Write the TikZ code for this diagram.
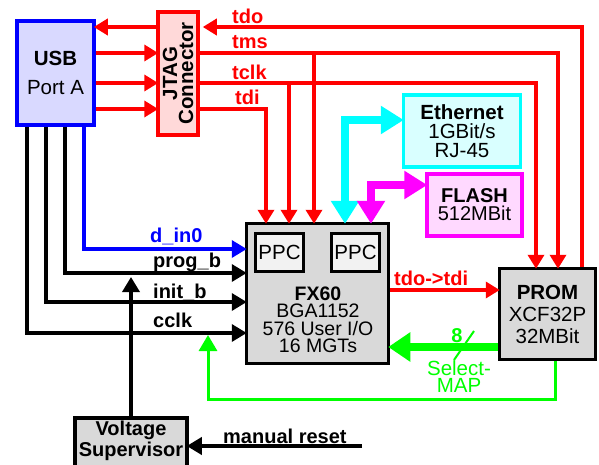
\documentclass[tikz,border=0pt]{standalone}
\usepackage{fontspec}
\setmainfont{Liberation Sans}
\usetikzlibrary{arrows.meta,positioning,calc}
\definecolor{usbfill}{HTML}{D9D9FF}
\definecolor{jtagfill}{HTML}{FFD9D9}
\definecolor{ethfill}{HTML}{D9FFFF}
\definecolor{flashfill}{HTML}{FFD9FF}
\definecolor{chipfill}{HTML}{D9D9D9}
\definecolor{ppcfill}{HTML}{F2F2F2}
\definecolor{ethcyan}{RGB}{0,255,255}
\definecolor{flashmag}{RGB}{255,0,255}
\definecolor{cfggreen}{RGB}{0,255,0}

\begin{document}
\begin{tikzpicture}[
  x=1pt, y=-1pt,
  box/.style={
    draw=black, line width=3.5pt, align=center, inner sep=0pt,
    font=\fontsize{20.5}{17}\selectfont
  },
  ppcbox/.style={
    draw=black, line width=3pt, fill=ppcfill, inner sep=0pt,
    minimum width=48pt, minimum height=38pt, font=\fontsize{20.5}{17}\selectfont
  },
  lbl/.style={font=\bfseries\fontsize{20}{20}\selectfont, anchor=base west, inner sep=0pt},
  rarrow/.style={-{Triangle[length=14pt,width=16pt]}, red, line width=3.5pt},
  karrow/.style={-{Triangle[length=15pt,width=17pt]}, black, line width=3.5pt},
  fat/.style={{Triangle[length=23pt,width=27pt]}-{Triangle[length=23pt,width=27pt]}, line width=8pt},
]
  \useasboundingbox (0,0) rectangle (599,465);

  % Boxes
  \node[box, draw=blue, fill=usbfill, minimum width=77pt, minimum height=104pt] (usb) at (55.5,73)
    {\textbf{USB}\\[12pt]Port A};
  \node[box, draw=red, fill=jtagfill, minimum width=40pt, minimum height=123pt] (jtag) at (178,73.5) {};
  \node[rotate=90, align=center, inner sep=0pt, font=\bfseries\fontsize{20.5}{16}\selectfont] (jtagtxt)
    at (jtag.center) {JTAG\\Connector};
  \node[box, draw=ethcyan, fill=ethfill, minimum width=117pt, minimum height=72pt,
    font=\fontsize{20.5}{19}\selectfont] (eth) at (462,131) {\textbf{Ethernet}\\1GBit/s\\RJ-45};
  \node[box, draw=flashmag, fill=flashfill, minimum width=95pt, minimum height=62pt,
    font=\fontsize{20}{18}\selectfont] (flash) at (474.5,205) {\textbf{FLASH}\\512MBit};
  \node[box, fill=chipfill, minimum width=142pt, minimum height=140pt] (fx60) at (317.5,293.5) {};
  \node[ppcbox] (ppcA) at (279.5,252) {PPC};
  \node[ppcbox] (ppcB) at (355.5,252) {PPC};
  \node[align=center, inner sep=0pt, font=\fontsize{19.5}{17.5}\selectfont] (fxtxt) at (318,320)
    {\textbf{FX60}\\BGA1152\\576 User I/O\\16 MGTs};
  \node[box, fill=chipfill, minimum width=96pt, minimum height=91pt,
    font=\fontsize{20.5}{22}\selectfont] (prom) at (547.5,314) {\textbf{PROM}\\XCF32P\\32MBit};
  \node[box, fill=chipfill, minimum width=112pt, minimum height=54pt] (vs) at (131,445) {};
  \node[align=center, inner sep=0pt, font=\bfseries\fontsize{20}{21}\selectfont] (vstxt) at (131,441)
    {Voltage\\Supervisor};

  % JTAG chain
  \coordinate (tdoC)  at (582,27);
  \coordinate (tmsC)  at (558,53);
  \coordinate (tclkC) at (536,83);
  \coordinate (tdiC)  at (266,109);
  \coordinate (tmsB)  at (314,53);
  \coordinate (tclkB) at (289,83);
  \draw[rarrow, shorten >=3pt] (prom.north -| tdoC) -- (tdoC) -- (jtag.east |- tdoC);
  \draw[rarrow, shorten >=-2pt] (jtag.west |- tdoC) -- (usb.east |- tdoC);
  \draw[rarrow, shorten >=-2pt] (usb.east |- tmsC) -- (jtag.west |- tmsC);
  \draw[rarrow, shorten >=-2pt] (usb.east |- tclkC) -- (jtag.west |- tclkC);
  \draw[rarrow, shorten >=-2pt] (usb.east |- tdiC) -- (jtag.west |- tdiC);
  \draw[rarrow, shorten >=-2pt] (jtag.east |- tmsC) -- (tmsC) -- (prom.north -| tmsC);
  \draw[rarrow, shorten >=-2pt] (jtag.east |- tclkC) -- (tclkC) -- (prom.north -| tclkC);
  \draw[rarrow, shorten >=-2pt] (tmsB) -- (fx60.north -| tmsB);
  \draw[rarrow, shorten >=-2pt] (tclkB) -- (fx60.north -| tclkB);
  \draw[rarrow, shorten >=-2pt] (jtag.east |- tdiC) -- (tdiC) -- (fx60.north -| tdiC);
  \node[lbl, text=red] (ltdo)  at (232,24)  {tdo};
  \node[lbl, text=red] (ltms)  at (232,49)  {tms};
  \node[lbl, text=red] (ltclk) at (232,80)  {tclk};
  \node[lbl, text=red] (ltdi)  at (235,105) {tdi};

  % Configuration lines from USB
  \coordinate (dinC)  at (84,249);
  \coordinate (progC) at (65,273);
  \coordinate (initC) at (46,302);
  \coordinate (cclkC) at (27,333);
  \draw[karrow, blue, shorten >=-2pt] (usb.south -| dinC) |- (fx60.west |- dinC);
  \draw[karrow, shorten >=-2pt] (usb.south -| progC) |- (fx60.west |- progC);
  \draw[karrow, shorten >=-2pt] (usb.south -| initC) |- (fx60.west |- initC);
  \draw[karrow, shorten >=-2pt] (usb.south -| cclkC) |- (fx60.west |- cclkC);
  \node[lbl, text=blue] (ldin) at (150,242) {d\_in0};
  \node[lbl] (lprog) at (153,267) {prog\_b};
  \node[lbl] (linit) at (153,298) {init\_b};
  \node[lbl] (lcclk) at (153,327) {cclk};

  % Reset
  \coordinate (rstC) at (362,446);
  \draw[karrow, shorten >=4pt] (vs.north) -- (vs.north |- progC);
  \draw[karrow, shorten >=-2pt] (rstC) -- (vs.east |- rstC);
  \node[lbl] (lrst) at (223,443) {manual reset};

  % Ethernet and FLASH buses
  \coordinate (ethC)   at (345,120);
  \coordinate (flashC) at (371,185);
  \draw[fat, ethcyan, shorten >=-2pt, shorten <=-2pt] (fx60.north -| ethC) |- (eth.west |- ethC);
  \draw[fat, flashmag, shorten >=-2pt, shorten <=-2pt] (fx60.north -| flashC) |- (flash.west |- flashC);

  % PROM to FX60
  \coordinate (ttC)   at (440,290);
  \coordinate (smapC) at (464,347);
  \coordinate (cfgA)  at (555,399);
  \coordinate (cfgB)  at (208,399);
  \draw[rarrow, shorten >=-2pt] (fx60.east |- ttC) -- (prom.west |- ttC);
  \node[lbl, text=red] (ltt) at (394,285) {tdo->tdi};
  \draw[-{Triangle[length=22pt,width=28pt]}, cfggreen, line width=8pt, shorten >=-2pt]
    (prom.west |- smapC) -- (fx60.east |- smapC);
  \draw[cfggreen, line width=2pt] ([shift={(-10,13)}]smapC) -- ([shift={(10,-16)}]smapC);
  \node[lbl, anchor=base, text=cfggreen] (lbus) at (457,342) {8};
  \node[align=center, inner sep=0pt, text=cfggreen, font=\fontsize{20.5}{17}\selectfont] (lsmap)
    at (459,377) {Select-\\MAP};
  \draw[-{Triangle[length=16pt,width=18pt]}, cfggreen, line width=3pt, shorten >=2pt]
    (prom.south -| cfgA) -- (cfgA) -- (cfgB) -- (cfgB |- cclkC);

\end{tikzpicture}
\end{document}
